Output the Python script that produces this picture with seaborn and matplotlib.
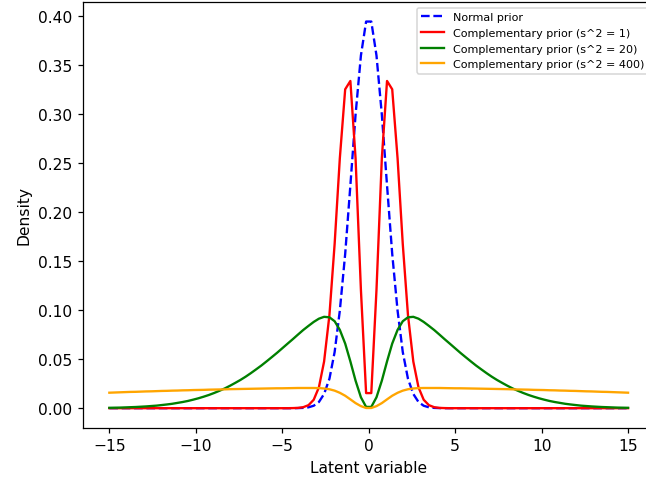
import numpy as np
import pandas as pd
import seaborn as sns
import matplotlib
matplotlib.use("Agg")
import matplotlib.pyplot as plt

# sample positions along the latent axis
latent = [
    -15.0, -14.7, -14.39, -14.09, -13.79, -13.48, -13.18, -12.88, -12.58, -12.27,
    -11.97, -11.67, -11.36, -11.06, -10.76, -10.45, -10.15, -9.85, -9.55, -9.24,
    -8.94, -8.64, -8.33, -8.03, -7.73, -7.42, -7.12, -6.82, -6.52, -6.21,
    -5.91, -5.61, -5.3, -5.0, -4.7, -4.39, -4.09, -3.79, -3.48, -3.18,
    -2.88, -2.58, -2.27, -1.97, -1.67, -1.36, -1.06, -0.76, -0.45, -0.15,
    0.15, 0.45, 0.76, 1.06, 1.36, 1.67, 1.97, 2.27, 2.58, 2.88,
    3.18, 3.48, 3.79, 4.09, 4.39, 4.7, 5.0, 5.3, 5.61, 5.91,
    6.21, 6.52, 6.82, 7.12, 7.42, 7.73, 8.03, 8.33, 8.64, 8.94,
    9.24, 9.55, 9.85, 10.15, 10.45, 10.76, 11.06, 11.36, 11.67, 11.97,
    12.27, 12.58, 12.88, 13.18, 13.48, 13.79, 14.09, 14.39, 14.7, 15.0,
]

normal_prior = [
    0, 0, 0, 0, 0, 0, 0, 0, 0, 0,
    0, 0, 0, 0, 0, 0, 0, 0, 0, 0,
    0, 0, 0, 0, 0, 0, 0, 0, 0, 0,
    0, 0, 0, 0, 0, 0, 0.0001, 0.0003, 0.0009, 0.0025,
    0.0063, 0.0145, 0.0301, 0.0573, 0.0995, 0.1574, 0.2273, 0.2994, 0.3598, 0.3944,
    0.3944, 0.3598, 0.2994, 0.2273, 0.1574, 0.0995, 0.0573, 0.0301, 0.0145, 0.0063,
    0.0025, 0.0009, 0.0003, 0.0001, 0, 0, 0, 0, 0, 0,
    0, 0, 0, 0, 0, 0, 0, 0, 0, 0,
    0, 0, 0, 0, 0, 0, 0, 0, 0, 0,
    0, 0, 0, 0, 0, 0, 0, 0, 0, 0,
]

comp_s1 = [
    0, 0, 0, 0, 0, 0, 0, 0, 0, 0,
    0, 0, 0, 0, 0, 0, 0, 0, 0, 0,
    0, 0, 0, 0, 0, 0, 0, 0, 0, 0,
    0, 0, 0, 0, 0, 0.0001, 0.0003, 0.0010, 0.0031, 0.0086,
    0.0213, 0.0476, 0.0952, 0.1676, 0.2549, 0.3253, 0.3338, 0.2550, 0.1206, 0.0154,
    0.0154, 0.1206, 0.2550, 0.3338, 0.3253, 0.2549, 0.1676, 0.0952, 0.0476, 0.0213,
    0.0086, 0.0031, 0.0010, 0.0003, 0.0001, 0, 0, 0, 0, 0,
    0, 0, 0, 0, 0, 0, 0, 0, 0, 0,
    0, 0, 0, 0, 0, 0, 0, 0, 0, 0,
    0, 0, 0, 0, 0, 0, 0, 0, 0, 0,
]

comp_s20 = [
    0.0004, 0.0005, 0.0006, 0.0008, 0.0010, 0.0012, 0.0015, 0.0018, 0.0022, 0.0026,
    0.0032, 0.0038, 0.0045, 0.0054, 0.0063, 0.0074, 0.0087, 0.0101, 0.0117, 0.0135,
    0.0155, 0.0177, 0.0201, 0.0228, 0.0257, 0.0288, 0.0321, 0.0357, 0.0395, 0.0435,
    0.0477, 0.0520, 0.0565, 0.0611, 0.0657, 0.0704, 0.0751, 0.0797, 0.0840, 0.0880,
    0.0913, 0.0932, 0.0927, 0.0887, 0.0799, 0.0659, 0.0477, 0.0281, 0.0111, 0.0013,
    0.0013, 0.0111, 0.0281, 0.0477, 0.0659, 0.0799, 0.0887, 0.0927, 0.0932, 0.0913,
    0.0880, 0.0840, 0.0797, 0.0751, 0.0704, 0.0657, 0.0611, 0.0565, 0.0520, 0.0477,
    0.0435, 0.0395, 0.0357, 0.0321, 0.0288, 0.0257, 0.0228, 0.0201, 0.0177, 0.0155,
    0.0135, 0.0117, 0.0101, 0.0087, 0.0074, 0.0063, 0.0054, 0.0045, 0.0038, 0.0032,
    0.0026, 0.0022, 0.0018, 0.0015, 0.0012, 0.0010, 0.0008, 0.0006, 0.0005, 0.0004,
]

comp_s400 = [
    0.0158, 0.0160, 0.0162, 0.0164, 0.0166, 0.0167, 0.0169, 0.0171, 0.0172, 0.0174,
    0.0176, 0.0177, 0.0179, 0.0180, 0.0182, 0.0183, 0.0185, 0.0186, 0.0187, 0.0189,
    0.0190, 0.0191, 0.0192, 0.0194, 0.0195, 0.0196, 0.0197, 0.0198, 0.0199, 0.0200,
    0.0201, 0.0202, 0.0203, 0.0203, 0.0204, 0.0205, 0.0206, 0.0206, 0.0206, 0.0206,
    0.0205, 0.0201, 0.0193, 0.0179, 0.0157, 0.0127, 0.0090, 0.0052, 0.0021, 0.0002,
    0.0002, 0.0021, 0.0052, 0.0090, 0.0127, 0.0157, 0.0179, 0.0193, 0.0201, 0.0205,
    0.0206, 0.0206, 0.0206, 0.0206, 0.0205, 0.0204, 0.0203, 0.0203, 0.0202, 0.0201,
    0.0200, 0.0199, 0.0198, 0.0197, 0.0196, 0.0195, 0.0194, 0.0192, 0.0191, 0.0190,
    0.0189, 0.0187, 0.0186, 0.0185, 0.0183, 0.0182, 0.0180, 0.0179, 0.0177, 0.0176,
    0.0174, 0.0172, 0.0171, 0.0169, 0.0167, 0.0166, 0.0164, 0.0162, 0.0160, 0.0158,
]

df = pd.DataFrame({
    'x': latent,
    'normal': normal_prior,
    's1': comp_s1,
    's20': comp_s20,
    's400': comp_s400,
})

# the reference looks like a default figure rendered a bit larger than 100 dpi
dpi = 112
fig = plt.figure(figsize=(646 / dpi, 481 / dpi), dpi=dpi)
ax = fig.add_axes([83.4 / 646, 0.1091, 570.6 / 646, 0.8842])

sns.lineplot(data=df, x='x', y='normal', ax=ax, color='blue', linestyle='--', label='Normal prior')
sns.lineplot(data=df, x='x', y='s1', ax=ax, color='red', label='Complementary prior (s^2 = 1)')
sns.lineplot(data=df, x='x', y='s20', ax=ax, color='green', label='Complementary prior (s^2 = 20)')
sns.lineplot(data=df, x='x', y='s400', ax=ax, color='orange', label='Complementary prior (s^2 = 400)')

ax.set_xlabel('Latent variable')
ax.set_ylabel('Density')
ax.legend(loc='upper right', fontsize=7.2)

fig.savefig('out.png', dpi=dpi)
